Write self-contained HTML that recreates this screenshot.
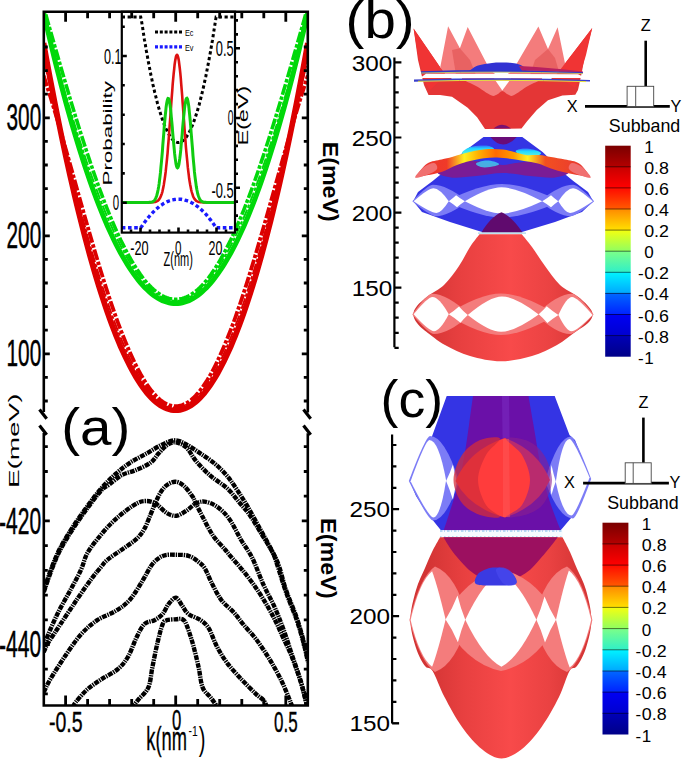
<!DOCTYPE html>
<html><head><meta charset="utf-8"><title>figure</title>
<style>html,body{margin:0;padding:0;background:#fff;}svg{display:block;}</style>
</head><body>
<svg width="685" height="765" viewBox="0 0 685 765">
<rect width="685" height="765" fill="#fff"/>
<defs><linearGradient id="rgb" gradientUnits="userSpaceOnUse" x1="420" y1="0" x2="585" y2="0"><stop offset="0" stop-color="#d23434"/><stop offset="0.25" stop-color="#e84040"/><stop offset="0.55" stop-color="#f84a4a"/><stop offset="0.8" stop-color="#ea4242"/><stop offset="1" stop-color="#d63636"/></linearGradient></defs>
<defs><linearGradient id="rgc" gradientUnits="userSpaceOnUse" x1="425" y1="0" x2="580" y2="0"><stop offset="0" stop-color="#d23434"/><stop offset="0.25" stop-color="#e84040"/><stop offset="0.55" stop-color="#f84a4a"/><stop offset="0.8" stop-color="#ea4242"/><stop offset="1" stop-color="#d63636"/></linearGradient></defs>
<defs><linearGradient id="rgt" gradientUnits="userSpaceOnUse" x1="425" y1="0" x2="580" y2="0"><stop offset="0" stop-color="#d23434"/><stop offset="0.25" stop-color="#e84040"/><stop offset="0.55" stop-color="#f84a4a"/><stop offset="0.8" stop-color="#ea4242"/><stop offset="1" stop-color="#d63636"/></linearGradient></defs>
<path d="M413.6,28.6 L441,68.6 L452,79 L551,79 L560,70 L592.2,28 L585,55 L581.7,73 L578,90 L575.3,94.7 L562.4,95.5 L548,100.3 L536.8,110 L527.1,121.2 L521.5,128.6 L485,128.9 L477.1,117.2 L467.7,107.8 L452,96.8 L440,95 L428.5,94.9 L424,85 L418,60Z" fill="#e43636" />
<path d="M440.3,67 L448.1,26.3 L459.9,48.2 L467.7,27 L490,70 L501.4,79 L513,70 L538.4,26.4 L548,49 L557.6,27.2 L566,68.2 L560,78 L445,78Z" fill="#f47c7c" />
<path d="M452,50 L459.9,48.2 L470,60 L476,75 L456,75Z" fill="#e86262" />
<path d="M548,49 L555,58 L560,75 L530,75 L535,60Z" fill="#e86262" />
<path d="M413.6,28.6 L441,68.6 L446,75 L430,90 L424,80 L418,55Z" fill="#f03434" />
<path d="M592.2,28 L560,70 L556,75 L575,88 L580,75 L586,55Z" fill="#f03434" />
<path d="M462,79.5 C464.3,80.6 471.2,83.4 476,86 C480.8,88.6 487.5,93.9 491,95.3 C494.5,96.7 495.1,95.2 497,94.5 C498.9,93.8 500.5,91 502.3,91 C504.1,91 506.1,93.8 508,94.5 C509.9,95.2 510.3,96.7 513.6,95.3 C516.9,93.9 523.3,88.6 528,86 C532.7,83.4 539.7,80.6 542,79.5 L542,78 L462,78Z" fill="#f47c7c" />
<path d="M494,78.5 L502.3,90.5 L511,78.5Z" fill="#fff" />
<path d="M493.4,128.6 Q502,121 511,128.6Z" fill="#7a1070" />
<path d="M469,71 C470.5,70.1 474.2,66.8 478,65.5 C481.8,64.2 487.8,63.5 492,63 C496.2,62.5 499,62.5 503,62.6 C507,62.7 512.5,62.8 516,63.5 C519.5,64.2 522.2,65.7 524,67 C525.8,68.3 526.5,70.8 527,71.5Z" fill="#3232d2" />
<path d="M519,66 Q545,67 583,71.5 L583,73 Q545,70 522,71Z" fill="#b82060" />
<path d="M421,71.3 Q500,68.5 583,72.2 L583,73.8 Q500,71 421,73.5Z" fill="#2e36c8" />
<path d="M421,73 Q500,71 583,73.6" fill="#fff" stroke="#d8e060" stroke-width="0.8" fill-opacity="0"/>
<path d="M426,73.8 L578,74.2 L586,78 L420,78Z" fill="#fff" />
<path d="M414,79.6 Q500,76.5 590,80 L590,81.6 Q500,79 414,81.8Z" fill="#3a40cc" />
<path d="M418,81.3 Q500,79.2 586,81.6" fill="#fff" stroke="#e8e040" stroke-width="1" fill-opacity="0"/>
<path d="M483.5,136.9 L522.3,136.9 L542.6,151.9 L556,165 L566,175 L573.3,181 L580,186 L588,192 L593.3,201.3 L582,212 L555,222 L522,232 L482,232 L450,222 L422,212 L413.2,201.3 L418,192 L426,186 L432.7,181 L440,175 L450,165 L463.4,151.9Z" fill="#3434e4" />
<path d="M437,172 C437.2,169.9 446.5,166.8 452,165 C457.5,163.2 463.7,161.3 470,161 C476.3,160.7 484.5,162.3 490,163 C495.5,163.7 498.7,165 503,165 C507.3,165 510.5,163.7 516,163 C521.5,162.3 529.7,160.7 536,161 C542.3,161.3 548.5,163.2 554,165 C559.5,166.8 568.8,169.9 569,172 C569.2,174.1 561.5,176.8 555,177.5 C548.5,178.2 538.7,176.8 530,176 C521.3,175.2 512,173 503,173 C494,173 484.7,175.2 476,176 C467.3,176.8 457.5,178.2 451,177.5 C444.5,176.8 436.8,174.1 437,172Z" fill="#7a1c96" />
<defs><linearGradient id="bandg" gradientUnits="userSpaceOnUse" x1="415" y1="0" x2="591" y2="0"><stop offset="0" stop-color="#e83434"/><stop offset="0.18" stop-color="#f03a28"/><stop offset="0.28" stop-color="#fff020"/><stop offset="0.36" stop-color="#ffb000"/><stop offset="0.46" stop-color="#ff6a00"/><stop offset="0.56" stop-color="#ff9c00"/><stop offset="0.64" stop-color="#fff020"/><stop offset="0.74" stop-color="#f25020"/><stop offset="1" stop-color="#e83434"/></linearGradient><linearGradient id="bandc" x1="0" y1="0" x2="0" y2="1"><stop offset="0" stop-color="#3070ff"/><stop offset="0.35" stop-color="#20d8ff"/><stop offset="1" stop-color="#60f0e0"/></linearGradient></defs>
<path d="M462,153.5 C461,152.4 465.3,149.3 468,148 C470.7,146.7 474.5,146.1 478,145.8 C481.5,145.5 486.3,145.4 489,146 C491.7,146.6 494.5,148.4 494,149.5 C493.5,150.6 489.3,151.7 486,152.5 C482.7,153.3 478,154.3 474,154.5 C470,154.7 463,154.6 462,153.5Z" fill="url(#bandc)" />
<path d="M516,150.5 C517,149.7 521.2,148.7 524,148.5 C526.8,148.3 530.2,148.8 533,149.5 C535.8,150.2 540.5,151.9 541,153 C541.5,154.1 538.5,155.6 536,156 C533.5,156.4 529,155.9 526,155.5 C523,155.1 519.7,154.3 518,153.5 C516.3,152.7 515,151.3 516,150.5Z" fill="url(#bandc)" />
<path d="M476,163.5 C476.7,162.4 482,160.8 485,160.5 C488,160.2 491.7,160.8 494,161.5 C496.3,162.2 499.7,163.6 499,164.5 C498.3,165.4 493,166.6 490,167 C487,167.4 483.3,167.6 481,167 C478.7,166.4 475.3,164.6 476,163.5Z" fill="#40c8f0" fill-opacity="0.85"/>
<path d="M415.3,177.4 C417.2,175.1 422.5,166.8 426.9,163.8 C431.3,160.8 437.3,160.7 441.5,159.6 C445.7,158.5 448.4,158 452,157 C455.6,156 459.2,154.8 463,153.8 C466.8,152.8 470.7,151.6 475,150.8 C479.3,150 484.3,149.2 489,149 C493.7,148.8 498.7,149.1 503,149.6 C507.3,150.1 511.2,151.3 515,152.2 C518.8,153.1 522,154.5 526,155 C530,155.5 534.8,154.7 539,155 C543.2,155.3 546.7,156.2 551,157 C555.3,157.8 560.2,158.5 565,159.6 C569.8,160.7 575.2,160.8 579.5,163.8 C583.8,166.8 588.8,175.1 590.6,177.4 L590.6,177.4 C588.7,177.1 583.3,176.1 579,175.3 C574.7,174.5 569.7,173.6 565,172.5 C560.3,171.4 555.5,170 551,168.5 C546.5,167 542.5,164.8 538,163.5 C533.5,162.2 528.7,161.8 524,161 C519.3,160.2 514.5,159.4 510,158.8 C505.5,158.2 501.3,157.6 497,157.5 C492.7,157.4 488.5,157.6 484,158.2 C479.5,158.8 474.5,159.9 470,161 C465.5,162.1 461.8,163.2 457,165 C452.2,166.8 446.5,170.3 441.5,172 C436.5,173.7 431.4,174.4 427,175.3 C422.6,176.2 417.2,177.1 415.3,177.4Z" fill="url(#bandg)" />
<path d="M415.3,177.4 C414.6,176.2 420.9,169.4 424,167 C427.1,164.6 431.8,162.7 434,163 C436.2,163.3 438,167.1 437,169 C436,170.9 431.6,173.1 428,174.5 C424.4,175.9 416,178.7 415.3,177.4Z" fill="#f07070" />
<path d="M590.6,177.4 C591.3,176.2 585.1,169.4 582,167 C578.9,164.6 574.2,162.7 572,163 C569.8,163.3 568,167.1 569,169 C570,170.9 574.4,173.1 578,174.5 C581.6,175.9 589.9,178.7 590.6,177.4Z" fill="#f07070" />
<path d="M490.4,136.9 Q503,152 516.8,136.9Z" fill="#6a0c78" />
<path d="M412.3,201.3 Q427.8,184.8 433,184.8 Q446.8,184.8 467.5,201.3 Q448.6,216.2 436,216.2 Q430.1,216.2 412.3,201.3Z" fill="#7c7cf6" />
<path d="M446,201.3 Q480.7,184 502,184 Q524.2,184 560.5,201.3 Q524.2,217.5 502,217.5 Q480.7,217.5 446,201.3Z" fill="#7c7cf6" />
<path d="M539.5,201.3 Q559.6,184.8 573,184.8 Q578.3,184.8 594.2,201.3 Q576.4,216.2 570.5,216.2 Q558.1,216.2 539.5,201.3Z" fill="#7c7cf6" />
<path d="M413.6,201.3 Q428.5,188.3 433.5,188.3 Q439.6,188.3 448.8,201.3 Q441.4,213 436.5,213 Q430.8,213 413.6,201.3Z" fill="#fff" />
<path d="M448.8,201.3 Q452.7,198.5 456.1,195.3 Q460.1,198.5 464.9,201.3 Q460.6,204.1 457,207.3 Q453.2,204.1 448.8,201.3Z" fill="#fff" />
<path d="M464.9,201.3 Q488.3,187.3 501.4,187.3 Q516.1,187.3 542.2,201.3 Q516.1,213.5 501.4,213.5 Q488.3,213.5 464.9,201.3Z" fill="#fff" />
<path d="M542.2,201.3 Q547,198.5 551,195.3 Q554.4,198.5 558.3,201.3 Q554.4,204.1 551,207.3 Q547,204.1 542.2,201.3Z" fill="#fff" />
<path d="M558.3,201.3 Q567.1,188.3 573,188.3 Q578,188.3 592.8,201.3 Q575.7,213 570,213 Q565.3,213 558.3,201.3Z" fill="#fff" />
<path d="M481.5,232.5 C486,224 494,215 501.5,212.2 C509,215 517,224 522.5,232.5Z" fill="#600a6e" />
<path d="M478,233.2 H526" stroke="#a8d8e8" stroke-width="1.2"/>
<path d="M479.5,234.2 C477.9,236.3 473.4,241.7 470,247 C466.6,252.3 463.3,259.7 459,266 C454.7,272.3 449.2,280 444,285 C438.8,290 432.5,292.5 428,296 C423.5,299.5 419.4,302.9 417,306 C414.6,309.1 413.3,311.7 413.3,314.5 C413.3,317.3 414.9,320.2 417,323 C419.1,325.8 421.3,327.8 426,331.5 C430.7,335.2 437.7,340.9 445,345 C452.3,349.1 460.7,353.3 470,356 C479.3,358.7 490.6,361.3 500.9,361.3 C511.2,361.3 522.6,358.7 532,356 C541.4,353.3 549.7,349.1 557,345 C564.3,340.9 570.8,335.2 576,331.5 C581.2,327.8 585.2,325.8 588,323 C590.8,320.2 592.7,317.3 592.7,314.5 C592.7,311.7 590.6,309.1 588,306 C585.4,302.9 581.7,299.5 577,296 C572.3,292.5 565.3,290 560,285 C554.7,280 549.7,272.3 545,266 C540.3,259.7 535.9,252.3 532,247 C528.1,241.7 523.5,236.3 521.8,234.2Z" fill="url(#rgb)" />
<path d="M412.3,314.5 Q427.1,293.8 432,293.8 Q447.2,293.8 470,315 Q448.4,334 434,334 Q428.6,334 412.3,314.5Z" fill="#f47c7c" />
<path d="M446.5,314.5 Q480.3,293.5 501,293.5 Q522.3,293.5 557,314.5 Q522.3,335 501,335 Q480.3,335 446.5,314.5Z" fill="#f47c7c" />
<path d="M536,314.5 Q557.6,293.8 572,293.8 Q577.4,293.8 593.6,314.5 Q575.9,334 570,334 Q556.4,334 536,314.5Z" fill="#f47c7c" />
<path d="M413.6,314.3 Q427.8,297 432.5,297 Q439,297 448.8,314.3 Q439.9,331.2 434,331.2 Q428.9,331.2 413.6,314.3Z" fill="#fff" />
<path d="M448.8,314.3 Q454.3,310.7 459,306.5 Q463,311.1 467.8,315 Q463.9,318.6 460.5,322.8 Q455.1,318.2 448.8,314.3Z" fill="#fff" />
<path d="M467.8,315 Q489.7,296.5 502,296.5 Q515.2,296.5 538.7,314.5 Q514.6,331.8 501,331.8 Q489,331.8 467.8,315Z" fill="#fff" />
<path d="M538.7,314.3 Q543,310.6 546.7,306.3 Q552.1,311 558.4,315 Q552.5,318.7 547.4,323 Q543.4,318.3 538.7,314.3Z" fill="#fff" />
<path d="M558.4,315 Q566.6,297 572,297 Q577.1,297 592.6,315 Q576.8,331.2 571.5,331.2 Q566.3,331.2 558.4,315Z" fill="#fff" />
<path d="M446.7,396.1 L554.7,396.1 L569.5,435.1 L575,440 L582,458 L590.1,479 L582,498 L575,512 L571.5,517.5 L560.7,530.2 L440.9,530.2 L431,518 L425,510 L416,496 L409.8,481 L415,468 L423,452 L431.4,438Z" fill="#3434e4" />
<path d="M473,396.1 C472.3,400.9 470.4,415.2 469,425 C467.6,434.8 466.2,445.5 464.5,455 C462.8,464.5 461.2,473.2 459,482 C456.8,490.8 453.5,500 451,508 C448.5,516 445,526.5 443.8,530.2 L560.6,530.2 C559.2,526.5 554.8,516 552,508 C549.2,500 546.2,490.8 544,482 C541.8,473.2 540.2,464.5 538.5,455 C536.8,445.5 535.2,434.8 533.5,425 C531.8,415.2 529.3,400.9 528.5,396.1Z" fill="#6a10a8" />
<path d="M502,396.1 L509,396.1 L510,470 L503,470Z" fill="#7e34c8" fill-opacity="0.45"/>
<path d="M408.8,481 Q425.8,436 430,436 Q444.5,436 459,481 Q446,520.5 433,520.5 Q428.2,520.5 408.8,481Z" fill="#7c7cf6" />
<path d="M545,481 Q558,436.5 571,436.5 Q575,436.5 591.2,479 Q576.6,518.5 573,518.5 Q559,518.5 545,481Z" fill="#7c7cf6" />
<path d="M410.6,481.2 Q425.6,440 429.4,440 Q438.6,440 446.1,480.2 Q440.3,517.5 433.3,517.5 Q428.8,517.5 410.6,481.2Z" fill="#fff" />
<path d="M446.1,481 Q449.8,473.6 452.9,464.5 Q454.7,473.7 456.9,481.2 Q454.7,489.6 452.9,499.8 Q449.8,489.5 446.1,481Z" fill="#fff" />
<path d="M549,480.5 Q550.4,473.5 551.5,465 Q553.4,474.1 555.8,481.5 Q553.4,487.6 551.5,495 Q550.4,487 549,480.5Z" fill="#fff" />
<path d="M555.8,482 Q562,439 569.5,439 Q573.5,439 589.6,477.5 Q575.1,515.5 571.5,515.5 Q562.9,515.5 555.8,482Z" fill="#fff" />
<path d="M455.5,481 Q469.1,449.8 504.8,438 Q537.6,449.6 550,480 Q537.6,507.2 504.8,517.5 Q469.1,507.5 455.5,481Z" fill="#ff3c3c" />
<path d="M453.5,480 C453.5,472 457.6,461.7 462,455 C466.4,448.3 473.7,442.8 480,440 C486.3,437.2 499,436 500,438.5 C501,441 489.7,448.1 486,455 C482.3,461.9 478,471.7 478,480 C478,488.3 482.3,498.8 486,505 C489.7,511.2 501,515.3 500,517 C499,518.7 486.3,517.3 480,515 C473.7,512.7 466.4,508.8 462,503 C457.6,497.2 453.5,488 453.5,480Z" fill="#d42c3a" fill-opacity="0.75"/>
<path d="M552,480 C552,472 548,461.5 544,455 C540,448.5 534.3,443.8 528,441 C521.7,438.2 507,436.2 506,438.5 C505,440.8 518,448.1 522,455 C526,461.9 530,471.7 530,480 C530,488.3 526,498.8 522,505 C518,511.2 505,515.5 506,517 C507,518.5 521.7,516.3 528,514 C534.3,511.7 540,508.7 544,503 C548,497.3 552,488 552,480Z" fill="#8a2090" fill-opacity="0.6"/>
<path d="M503,439 L509,439 L510,517 L503,517Z" fill="#ff6060" fill-opacity="0.4"/>
<path d="M440,530.2 H562.5 V537.3 H440Z" fill="#f6fbff" />
<path d="M440,531 H562" stroke="#78b8e8" stroke-width="1.1" stroke-dasharray="2.5 1.5 1 2"/>
<path d="M440,536.6 H562" stroke="#b0d8f0" stroke-width="1" stroke-dasharray="1.5 2.5"/>
<path d="M440,537.3 C438.7,539.8 434.6,546.8 432,552 C429.4,557.2 427.4,562.4 424.7,568.7 C422,575 418.4,581.5 416,590 C413.6,598.5 410.4,610.3 410.4,620 C410.4,629.7 413.6,640.3 416,648 C418.4,655.7 422.2,662.2 425,666 C427.8,669.8 429.4,665.8 432.6,671 C435.9,676.2 439.6,687.7 444.5,697 C449.4,706.3 455.8,718.3 462,727 C468.2,735.7 475.4,744 482,749.3 C488.6,754.5 494.9,758.5 501.5,758.5 C508.1,758.5 515,754.5 521.7,749.3 C528.4,744 535.4,735.7 541.6,727 C547.8,718.3 554.4,706.3 559,697 C563.6,687.7 566.5,676.2 569.5,671 C572.5,665.8 574.2,669.8 577,666 C579.8,662.2 583.6,655.7 586,648 C588.4,640.3 591.4,629.7 591.4,620 C591.4,610.3 588.4,598.5 586,590 C583.6,581.5 579.7,575 577,568.7 C574.3,562.4 572.4,557.2 570,552 C567.6,546.8 563.8,539.8 562.5,537.3Z" fill="url(#rgc)" />
<path d="M443.4,537.3 C445.3,540.2 449.9,548.7 455,554.7 C460.1,560.7 466.7,568.7 473.7,573.4 C480.7,578.1 488.4,582.7 497,582.7 C505.6,582.7 517.3,578.1 525.1,573.4 C532.9,568.7 538.3,560.7 543.8,554.7 C549.2,548.7 555.5,540.2 557.8,537.3Z" fill="#9c1060" />
<path d="M409.4,620 Q420.2,576.1 435,566.5 Q456.4,574.5 468,620 Q456.4,664.2 435,672 Q420.2,662.6 409.4,620Z" fill="#f47c7c" />
<path d="M443,620 Q465,577.1 501,569.5 Q537,577.1 559,620 Q537,663.4 501,671 Q465,663.4 443,620Z" fill="#f47c7c" />
<path d="M533.5,620 Q545.2,574.5 567,566.5 Q581.7,576.1 592.4,620 Q581.7,662.6 567,672 Q545.2,664.2 533.5,620Z" fill="#f47c7c" />
<path d="M410.6,620 Q419.6,581 432.1,571.2 Q437.5,585.7 445.6,619.5 Q437.5,652.6 432.1,666.8 Q419.6,657.4 410.6,620Z" fill="#fff" />
<path d="M445.6,619.5 Q452.3,608.9 457.5,595.5 Q460.9,609.1 465.3,619.8 Q461.2,629.7 457.9,642.2 Q452.5,629.5 445.6,619.5Z" fill="#fff" />
<path d="M465.3,619.8 Q483.1,581.6 501,572 Q518.7,581.5 536.4,619.7 Q518.9,657.4 501.4,666.8 Q483.4,657.4 465.3,619.8Z" fill="#fff" />
<path d="M536.4,619.7 Q540.9,609.5 544.5,596.5 Q549.6,609.5 556,619.7 Q549.8,629.7 545,642.5 Q541.2,629.7 536.4,619.7Z" fill="#fff" />
<path d="M556,619.7 Q563.7,585.2 568.9,570.4 Q581.8,580.3 591.2,619.7 Q582.2,658 569.7,667.6 Q564.2,653.2 556,619.7Z" fill="#fff" />
<path d="M476,583.9 C473,582 476,576.6 478,574 C480,571.4 485,569.6 488,568.5 C491,567.4 493.3,567.6 496,567.6 C498.7,567.6 501.2,567.4 504,568.5 C506.8,569.6 511,571.4 513,574 C515,576.6 518.6,582 515.8,583.9 C513,585.8 502.6,585.5 496,585.5 C489.4,585.5 479,585.8 476,583.9Z" fill="#3a3ae2" />
<path d="M496,570 C496.2,567.3 502.2,567.3 505,568 C507.8,568.7 511.2,571.4 513,574 C514.8,576.6 517.3,582.2 515.8,583.9 C514.3,585.6 507.3,586.3 504,584 C500.7,581.7 495.8,572.7 496,570Z" fill="#4848ee" fill-opacity="0.7"/>
<defs><clipPath id="clipA"><rect x="43.8" y="11.7" width="264" height="693.8"/></clipPath></defs>
<g clip-path="url(#clipA)">
<path d="M43.6,75.7 L45.8,82.4 L48,89.3 L50.2,96.2 L52.4,103.4 L54.6,110.6 L56.8,118 L59,125.5 L61.2,133.1 L63.4,140.7 L65.6,148.4 L67.8,156.2 L70,164 L72.2,171.8 L74.4,179.7 L76.6,187.5 L78.8,195.4 L81,203.2 L83.2,211 L85.4,218.7 L87.6,226.4 L89.8,234.1 L92,241.6 L94.2,249.1 L96.4,256.5 L98.6,263.8 L100.8,271 L103,278.1 L105.2,285.1 L107.4,291.9 L109.6,298.6 L111.8,305.2 L114,311.5 L116.2,317.8 L118.4,323.8 L120.6,329.7 L122.9,335.4 L125.1,340.9 L127.3,346.3 L129.5,351.4 L131.7,356.3 L133.9,361 L136.1,365.5 L138.3,369.8 L140.5,373.9 L142.7,377.7 L144.9,381.4 L147.1,384.7 L149.3,387.9 L151.5,390.8 L153.7,393.4 L155.9,395.8 L158.1,398 L160.3,399.9 L162.5,401.6 L164.7,403 L166.9,404.1 L169.1,405 L171.3,405.7 L173.5,406.1 L175.7,406.2 L177.9,406.1 L180.1,405.7 L182.3,405 L184.5,404.1 L186.7,403 L188.9,401.6 L191.1,399.9 L193.3,398 L195.5,395.8 L197.7,393.4 L199.9,390.8 L202.1,387.9 L204.3,384.7 L206.5,381.4 L208.7,377.7 L210.9,373.9 L213.1,369.8 L215.3,365.5 L217.5,361 L219.7,356.3 L221.9,351.4 L224.1,346.3 L226.3,340.9 L228.5,335.4 L230.8,329.7 L233,323.8 L235.2,317.8 L237.4,311.5 L239.6,305.2 L241.8,298.6 L244,291.9 L246.2,285.1 L248.4,278.1 L250.6,271 L252.8,263.8 L255,256.5 L257.2,249.1 L259.4,241.6 L261.6,234.1 L263.8,226.4 L266,218.7 L268.2,211 L270.4,203.2 L272.6,195.4 L274.8,187.5 L277,179.7 L279.2,171.8 L281.4,164 L283.6,156.2 L285.8,148.4 L288,140.7 L290.2,133.1 L292.4,125.5 L294.6,118 L296.8,110.6 L299,103.4 L301.2,96.2 L303.4,89.3 L305.6,82.4 L307.8,75.7" fill="none" stroke="#dc0000" stroke-width="3.8" stroke-dasharray="11 1.8 3.5 1.8"/>
<path d="M43.6,58.4 L45.8,67.9 L48,77.3 L50.2,86.7 L52.4,96.1 L54.6,105.5 L56.8,114.8 L59,124 L61.2,133.2 L63.4,142.3 L65.6,151.4 L67.8,160.3 L70,169.2 L72.2,178 L74.4,186.6 L76.6,195.2 L78.8,203.7 L81,212.1 L83.2,220.3 L85.4,228.4 L87.6,236.4 L89.8,244.3 L92,252 L94.2,259.5 L96.4,267 L98.6,274.2 L100.8,281.3 L103,288.3 L105.2,295.1 L107.4,301.7 L109.6,308.2 L111.8,314.4 L114,320.5 L116.2,326.4 L118.4,332.1 L120.6,337.7 L122.9,343 L125.1,348.2 L127.3,353.1 L129.5,357.9 L131.7,362.4 L133.9,366.7 L136.1,370.9 L138.3,374.8 L140.5,378.5 L142.7,382 L144.9,385.3 L147.1,388.3 L149.3,391.1 L151.5,393.8 L153.7,396.2 L155.9,398.3 L158.1,400.3 L160.3,402 L162.5,403.5 L164.7,404.7 L166.9,405.8 L169.1,406.6 L171.3,407.1 L173.5,407.5 L175.7,407.6 L177.9,407.5 L180.1,407.1 L182.3,406.6 L184.5,405.8 L186.7,404.7 L188.9,403.5 L191.1,402 L193.3,400.3 L195.5,398.3 L197.7,396.2 L199.9,393.8 L202.1,391.1 L204.3,388.3 L206.5,385.3 L208.7,382 L210.9,378.5 L213.1,374.8 L215.3,370.9 L217.5,366.7 L219.7,362.4 L221.9,357.9 L224.1,353.1 L226.3,348.2 L228.5,343 L230.8,337.7 L233,332.1 L235.2,326.4 L237.4,320.5 L239.6,314.4 L241.8,308.2 L244,301.7 L246.2,295.1 L248.4,288.3 L250.6,281.3 L252.8,274.2 L255,267 L257.2,259.5 L259.4,252 L261.6,244.3 L263.8,236.4 L266,228.4 L268.2,220.3 L270.4,212.1 L272.6,203.7 L274.8,195.2 L277,186.6 L279.2,178 L281.4,169.2 L283.6,160.3 L285.8,151.3 L288,142.3 L290.2,133.2 L292.4,124 L294.6,114.8 L296.8,105.5 L299,96.1 L301.2,86.7 L303.4,77.3 L305.6,67.9 L307.8,58.4" fill="none" stroke="#dc0000" stroke-width="2" stroke-dasharray="11 1.8 3.5 1.8"/>
<path d="M43.6,43.1 L45.8,55.2 L48,67.2 L50.2,78.9 L52.4,90.4 L54.6,101.8 L56.8,112.9 L59,123.8 L61.2,134.5 L63.4,145 L65.6,155.3 L67.8,165.4 L70,175.3 L72.2,185 L74.4,194.5 L76.6,203.8 L78.8,212.8 L81,221.7 L83.2,230.4 L85.4,238.8 L87.6,247.1 L89.8,255.2 L92,263 L94.2,270.7 L96.4,278.1 L98.6,285.4 L100.8,292.4 L103,299.2 L105.2,305.9 L107.4,312.3 L109.6,318.5 L111.8,324.5 L114,330.3 L116.2,335.9 L118.4,341.3 L120.6,346.6 L122.9,351.5 L125.1,356.3 L127.3,360.9 L129.5,365.3 L131.7,369.5 L133.9,373.5 L136.1,377.3 L138.3,380.8 L140.5,384.2 L142.7,387.4 L144.9,390.3 L147.1,393.1 L149.3,395.6 L151.5,398 L153.7,400.1 L155.9,402 L158.1,403.8 L160.3,405.3 L162.5,406.6 L164.7,407.8 L166.9,408.7 L169.1,409.4 L171.3,409.9 L173.5,410.2 L175.7,410.3 L177.9,410.2 L180.1,409.9 L182.3,409.4 L184.5,408.7 L186.7,407.8 L188.9,406.6 L191.1,405.3 L193.3,403.8 L195.5,402 L197.7,400.1 L199.9,398 L202.1,395.6 L204.3,393.1 L206.5,390.3 L208.7,387.4 L210.9,384.2 L213.1,380.8 L215.3,377.3 L217.5,373.5 L219.7,369.5 L221.9,365.3 L224.1,360.9 L226.3,356.3 L228.5,351.5 L230.8,346.6 L233,341.3 L235.2,335.9 L237.4,330.3 L239.6,324.5 L241.8,318.5 L244,312.3 L246.2,305.9 L248.4,299.2 L250.6,292.4 L252.8,285.4 L255,278.1 L257.2,270.7 L259.4,263 L261.6,255.2 L263.8,247.1 L266,238.8 L268.2,230.4 L270.4,221.7 L272.6,212.8 L274.8,203.7 L277,194.5 L279.2,185 L281.4,175.3 L283.6,165.4 L285.8,155.3 L288,145 L290.2,134.5 L292.4,123.8 L294.6,112.9 L296.8,101.8 L299,90.4 L301.2,78.9 L303.4,67.2 L305.6,55.2 L307.8,43.1" fill="none" stroke="#dc0000" stroke-width="5.6"/>
<path d="M45.8,14.6 L48,22.4 L50.2,30.1 L52.4,37.8 L54.6,45.5 L56.8,53.1 L59,60.7 L61.2,68.3 L63.4,75.9 L65.6,83.4 L67.8,90.8 L70,98.2 L72.2,105.5 L74.4,112.7 L76.6,119.9 L78.8,127 L81,133.9 L83.2,140.8 L85.4,147.6 L87.6,154.3 L89.8,160.9 L92,167.4 L94.2,173.8 L96.4,180 L98.6,186.2 L100.8,192.2 L103,198 L105.2,203.8 L107.4,209.4 L109.6,214.8 L111.8,220.1 L114,225.3 L116.2,230.3 L118.4,235.1 L120.6,239.8 L122.9,244.4 L125.1,248.7 L127.3,252.9 L129.5,257 L131.7,260.8 L133.9,264.5 L136.1,268 L138.3,271.3 L140.5,274.5 L142.7,277.5 L144.9,280.3 L147.1,282.9 L149.3,285.3 L151.5,287.5 L153.7,289.5 L155.9,291.4 L158.1,293 L160.3,294.5 L162.5,295.8 L164.7,296.9 L166.9,297.7 L169.1,298.4 L171.3,298.9 L173.5,299.2 L175.7,299.3 L177.9,299.2 L180.1,298.9 L182.3,298.4 L184.5,297.7 L186.7,296.9 L188.9,295.8 L191.1,294.5 L193.3,293 L195.5,291.4 L197.7,289.5 L199.9,287.5 L202.1,285.3 L204.3,282.9 L206.5,280.3 L208.7,277.5 L210.9,274.5 L213.1,271.3 L215.3,268 L217.5,264.5 L219.7,260.8 L221.9,257 L224.1,252.9 L226.3,248.7 L228.5,244.4 L230.8,239.8 L233,235.1 L235.2,230.3 L237.4,225.3 L239.6,220.1 L241.8,214.8 L244,209.4 L246.2,203.8 L248.4,198 L250.6,192.2 L252.8,186.2 L255,180 L257.2,173.8 L259.4,167.4 L261.6,160.9 L263.8,154.3 L266,147.6 L268.2,140.8 L270.4,133.9 L272.6,127 L274.8,119.9 L277,112.7 L279.2,105.5 L281.4,98.2 L283.6,90.8 L285.8,83.4 L288,75.9 L290.2,68.3 L292.4,60.7 L294.6,53.1 L296.8,45.5 L299,37.8 L301.2,30.1 L303.4,22.4 L305.6,14.6" fill="none" stroke="#00d80a" stroke-width="3.6" stroke-dasharray="11 1.8 3.5 1.8"/>
<path d="M43.6,15.7 L45.8,23.9 L48,32 L50.2,40.1 L52.4,48.1 L54.6,56 L56.8,63.9 L59,71.7 L61.2,79.4 L63.4,87 L65.6,94.6 L67.8,102 L70,109.4 L72.2,116.6 L74.4,123.8 L76.6,130.9 L78.8,137.8 L81,144.6 L83.2,151.4 L85.4,158 L87.6,164.5 L89.8,170.9 L92,177.1 L94.2,183.2 L96.4,189.2 L98.6,195.1 L100.8,200.8 L103,206.3 L105.2,211.8 L107.4,217.1 L109.6,222.2 L111.8,227.2 L114,232.1 L116.2,236.8 L118.4,241.3 L120.6,245.7 L122.9,250 L125.1,254 L127.3,257.9 L129.5,261.7 L131.7,265.3 L133.9,268.7 L136.1,272 L138.3,275 L140.5,278 L142.7,280.7 L144.9,283.3 L147.1,285.7 L149.3,287.9 L151.5,290 L153.7,291.8 L155.9,293.5 L158.1,295.1 L160.3,296.4 L162.5,297.6 L164.7,298.6 L166.9,299.4 L169.1,300 L171.3,300.4 L173.5,300.7 L175.7,300.8 L177.9,300.7 L180.1,300.4 L182.3,300 L184.5,299.4 L186.7,298.6 L188.9,297.6 L191.1,296.4 L193.3,295.1 L195.5,293.5 L197.7,291.8 L199.9,290 L202.1,287.9 L204.3,285.7 L206.5,283.3 L208.7,280.7 L210.9,278 L213.1,275 L215.3,272 L217.5,268.7 L219.7,265.3 L221.9,261.7 L224.1,257.9 L226.3,254 L228.5,250 L230.8,245.7 L233,241.3 L235.2,236.8 L237.4,232.1 L239.6,227.2 L241.8,222.2 L244,217.1 L246.2,211.8 L248.4,206.3 L250.6,200.8 L252.8,195.1 L255,189.2 L257.2,183.2 L259.4,177.1 L261.6,170.9 L263.8,164.5 L266,158 L268.2,151.4 L270.4,144.6 L272.6,137.8 L274.8,130.9 L277,123.8 L279.2,116.6 L281.4,109.4 L283.6,102 L285.8,94.5 L288,87 L290.2,79.4 L292.4,71.7 L294.6,63.9 L296.8,56 L299,48.1 L301.2,40.1 L303.4,32 L305.6,23.9 L307.8,15.7" fill="none" stroke="#00d80a" stroke-width="2" stroke-dasharray="11 1.8 3.5 1.8"/>
<path d="M43.6,12.6 L45.8,22.2 L48,31.7 L50.2,41 L52.4,50.1 L54.6,59.1 L56.8,67.9 L59,76.5 L61.2,85 L63.4,93.3 L65.6,101.5 L67.8,109.5 L70,117.3 L72.2,125 L74.4,132.5 L76.6,139.9 L78.8,147.1 L81,154.1 L83.2,161 L85.4,167.7 L87.6,174.2 L89.8,180.6 L92,186.8 L94.2,192.9 L96.4,198.8 L98.6,204.5 L100.8,210.1 L103,215.5 L105.2,220.8 L107.4,225.9 L109.6,230.8 L111.8,235.5 L114,240.2 L116.2,244.6 L118.4,248.9 L120.6,253 L122.9,257 L125.1,260.8 L127.3,264.4 L129.5,267.9 L131.7,271.2 L133.9,274.3 L136.1,277.3 L138.3,280.1 L140.5,282.8 L142.7,285.3 L144.9,287.7 L147.1,289.8 L149.3,291.9 L151.5,293.7 L153.7,295.4 L155.9,297 L158.1,298.3 L160.3,299.5 L162.5,300.6 L164.7,301.5 L166.9,302.2 L169.1,302.8 L171.3,303.2 L173.5,303.4 L175.7,303.5 L177.9,303.4 L180.1,303.2 L182.3,302.8 L184.5,302.2 L186.7,301.5 L188.9,300.6 L191.1,299.5 L193.3,298.3 L195.5,297 L197.7,295.4 L199.9,293.7 L202.1,291.9 L204.3,289.8 L206.5,287.7 L208.7,285.3 L210.9,282.8 L213.1,280.1 L215.3,277.3 L217.5,274.3 L219.7,271.2 L221.9,267.9 L224.1,264.4 L226.3,260.8 L228.5,257 L230.8,253 L233,248.9 L235.2,244.6 L237.4,240.2 L239.6,235.5 L241.8,230.8 L244,225.9 L246.2,220.8 L248.4,215.5 L250.6,210.1 L252.8,204.5 L255,198.8 L257.2,192.9 L259.4,186.8 L261.6,180.6 L263.8,174.2 L266,167.7 L268.2,161 L270.4,154.1 L272.6,147.1 L274.8,139.9 L277,132.5 L279.2,125 L281.4,117.3 L283.6,109.5 L285.8,101.5 L288,93.3 L290.2,85 L292.4,76.5 L294.6,67.9 L296.8,59.1 L299,50.1 L301.2,41 L303.4,31.7 L305.6,22.2 L307.8,12.6" fill="none" stroke="#00d80a" stroke-width="5"/>
<path d="M43.8,590 C45.2,586 49.5,573.1 52.3,566 C55.1,558.9 57,554.1 60.4,547.6 C63.8,541.1 68.3,534 72.7,527.2 C77.1,520.4 82.2,513.2 87,506.7 C91.8,500.2 96.5,493.8 101.3,488.4 C106.1,482.9 110.8,478.3 115.6,474 C120.4,469.7 124.8,466.2 129.9,462.8 C135,459.4 140.9,456.7 146.3,453.6 C151.8,450.5 157.7,446.6 162.6,444.4 C167.5,442.2 171.6,440.3 175.5,440.3 C179.4,440.3 182.1,442.2 186.3,444.4 C190.5,446.6 195.9,450.4 200.7,453.6 C205.5,456.8 210.6,460.1 215,463.8 C219.4,467.6 223.5,471.7 227.2,476.1 C230.9,480.5 234,485.3 237.4,490.4 C240.8,495.5 244.3,500.9 247.7,506.7 C251.1,512.5 254.5,519 257.9,525.1 C261.3,531.2 264.7,537 268.1,543.5 C271.5,550 275.4,556.4 278.3,564 C281.2,571.6 282.5,579.9 285.6,588.9 C288.7,597.9 293.8,609.3 296.7,617.8 C299.6,626.3 301.4,633 303.3,640 C305.2,647 307.2,656.7 308,660" fill="none" stroke="#000" stroke-width="4.4" stroke-dasharray="4.8 0.9 1.4 0.9"/>
<path d="M43.8,592 C45.2,588 49.5,575.1 52.3,568 C55.1,560.9 57,556.1 60.4,549.6 C63.8,543.1 68.3,536 72.7,529.2 C77.1,522.4 82.2,515.2 87,508.7 C91.8,502.2 97.5,494.5 101.3,490.4 C105,486.3 106.1,486.9 109.5,484.3 C112.9,481.8 117.3,477.5 121.7,475.1 C126.1,472.7 131.2,472.1 136,470 C140.8,467.9 146.7,465.5 150.4,462.8 C154.2,460.1 155.8,456.5 158.5,453.6 C161.2,450.7 163.9,447.3 166.7,445.4 C169.5,443.5 172.2,442 175.5,442.4 C178.8,442.8 182.8,444.3 186.3,447.5 C189.8,450.7 192.5,457 196.6,461.8 C200.7,466.6 205.8,471.7 210.9,476.1 C216,480.5 222.4,484 227.2,488.4 C232,492.8 235.8,498.3 239.5,502.7 C243.2,507.1 246.3,510.1 249.7,514.9 C253.1,519.7 256.1,525.2 259.9,531.3 C263.6,537.4 269.3,546.1 272.2,551.7 C275.1,557.3 275.1,558.5 277.3,565 C279.5,571.5 282.4,581.8 285.6,591 C288.8,600.2 293.8,611.5 296.7,620 C299.6,628.5 301.4,635 303.3,642 C305.2,649 307.2,658.7 308,662" fill="none" stroke="#000" stroke-width="4.4" stroke-dasharray="4.8 0.9 1.4 0.9"/>
<path d="M43.8,652 C44.5,650.5 45.4,647.3 48.2,642.7 C51,638.1 55.6,631.5 60.4,624.3 C65.2,617.1 71.7,607.2 76.8,599.7 C81.9,592.2 87.1,584.8 91.1,579.3 C95.1,573.8 98.3,570.2 101,567 C103.7,563.8 104,562.7 107.4,559.8 C110.9,556.9 116.9,553.1 121.7,549.7 C126.5,546.3 132.2,542.8 136,539.4 C139.8,536 141.8,533.3 144.2,529.2 C146.6,525.1 148.5,519.3 150.4,514.9 C152.3,510.5 153.8,506.4 155.5,502.7 C157.2,498.9 158.7,495.3 160.6,492.4 C162.5,489.5 164.2,487.1 166.7,485.3 C169.2,483.5 172.6,481.5 175.5,481.7 C178.4,481.9 181.5,483.8 184.3,486.3 C187.1,488.8 190.6,493.8 192.5,496.5 C194.4,499.2 193.8,499.3 195.5,502.7 C197.2,506.1 199.8,511.6 202.7,517 C205.6,522.5 209.2,529.9 212.9,535.4 C216.7,540.9 222.3,546.3 225.2,549.7 C228,553.1 227,552 230,555.6 C233,559.2 238.9,565.6 243.3,571.1 C247.8,576.6 252.6,583 256.7,588.9 C260.8,594.8 264.6,601.2 267.8,606.7 C271,612.2 273.4,616.8 276,622 C278.6,627.2 280.6,632.1 283.3,638 C286,643.9 289.2,650.1 292.2,657.6 C295.2,665.1 298.9,676.1 301.1,683.2 C303.3,690.3 304.6,696.2 305.6,700 C306.6,703.8 306.8,705 307,706" fill="none" stroke="#000" stroke-width="4.4" stroke-dasharray="4.8 0.9 1.4 0.9"/>
<path d="M43.8,646 C44.5,644.1 45.8,640.2 48.2,634.5 C50.6,628.8 54.6,619.5 58.4,612 C62.1,604.5 67,596.5 70.7,589.5 C74.5,582.5 78.2,576 80.9,570 C83.6,564 84.3,558.9 87,553.8 C89.7,548.7 93.1,544.5 97.2,539.4 C101.3,534.3 106.7,527.9 111.5,523.1 C116.3,518.3 121.4,514.2 125.8,510.8 C130.2,507.4 134.7,504.3 138.1,502.7 C141.5,501.1 143.6,501 146.3,501 C149,501 152.4,501.9 154.4,502.7 C156.4,503.5 156.4,504 158.5,505.7 C160.6,507.4 163.8,511.2 166.7,512.9 C169.6,514.6 172.7,516.1 176,515.8 C179.3,515.4 183.1,512.8 186.3,510.8 C189.6,508.8 192.4,505.2 195.5,503.7 C198.6,502.2 201.1,501.1 204.7,501.6 C208.3,502.1 212.9,503.8 217,506.7 C221.1,509.6 225.3,513.5 229.3,519 C233.3,524.5 237.3,533.5 241.1,540 C244.9,546.5 248.5,550.4 252.2,557.8 C255.9,565.2 259.6,576.2 263.3,584.4 C267,592.5 271.1,599.3 274.4,606.7 C277.7,614.1 280.3,620.8 283.3,628.9 C286.3,637 289.2,646.7 292.2,655.6 C295.2,664.5 298.9,674.8 301.1,682.2 C303.3,689.6 304.6,696 305.6,700 C306.6,704 306.8,705 307,706" fill="none" stroke="#000" stroke-width="4.4" stroke-dasharray="4.8 0.9 1.4 0.9"/>
<path d="M43.8,692 C44.9,689.9 46.8,685.2 50.2,679.4 C53.7,673.6 59.4,664.5 64.5,657 C69.6,649.5 75.5,640.6 80.9,634.5 C86.4,628.4 91.4,624.1 97.2,620.2 C103,616.3 110.1,614.4 115.6,611 C121,607.6 125.5,604.7 129.9,599.7 C134.3,594.8 138.8,586.8 142.2,581.3 C145.6,575.8 148,570.6 150.4,567 C152.8,563.4 154.1,561.9 156.5,559.9 C158.9,557.9 161.4,556.1 164.7,555.3 C167.9,554.4 172.1,554.7 176,554.8 C179.9,554.9 184.6,554.6 188.4,555.8 C192.2,557 195.9,559.8 198.6,561.9 C201.3,564 202.6,564.9 204.7,568.1 C206.8,571.3 208.2,576 210.9,581.3 C213.6,586.6 217.3,594.6 221.1,599.7 C224.8,604.8 229.7,607.9 233.4,612 C237.1,616.1 239.4,619.7 243.3,624.4 C247.2,629.1 252.2,634.1 256.7,640 C261.1,645.9 265.9,653.3 270,660 C274.1,666.7 278,673.8 281.1,680 C284.2,686.2 286.7,692.7 288.5,697 C290.3,701.3 291.4,704.5 292,706" fill="none" stroke="#000" stroke-width="4.4" stroke-dasharray="4.8 0.9 1.4 0.9"/>
<path d="M73,707 C73.5,706.2 73.5,704.9 75.8,702 C78.1,699.1 82.8,693.5 87,689.7 C91.2,685.9 96.2,682.8 101.3,679.4 C106.4,676 113.3,672.9 117.7,669.2 C122.1,665.5 124.9,662.1 127.9,657 C131,651.9 133.3,644.1 136,638.6 C138.7,633.1 141.1,627.4 144.2,624.3 C147.3,621.2 151.3,621.9 154.4,620.2 C157.5,618.5 160.2,616.7 162.6,614 C165,611.3 166.6,606.5 168.8,603.8 C171,601.1 173.7,597.4 175.9,597.7 C178.2,598.1 180.2,603.2 182.3,605.9 C184.4,608.6 185.3,611.6 188.4,614 C191.5,616.4 197.3,617.8 200.7,620.2 C204.1,622.6 206.1,624 208.8,628.4 C211.5,632.8 213.9,640.9 217,646.7 C220.1,652.5 223.1,657.7 227.2,663.1 C231.3,668.5 236.7,674.3 241.5,679.4 C246.3,684.5 252.2,690.4 255.8,693.8 C259.4,697.2 261.4,697.8 263.3,700 C265.2,702.2 266.4,705.8 267,707" fill="none" stroke="#000" stroke-width="4.4" stroke-dasharray="4.8 0.9 1.4 0.9"/>
<path d="M132,708 C133,706.6 135.4,703.3 138.1,699.9 C140.8,696.5 145.9,693 148.3,687.6 C150.7,682.2 150.9,674.7 152.4,667.2 C153.9,659.7 155.8,649.9 157.5,642.7 C159.2,635.6 161.1,628 162.6,624.3 C164.1,620.5 164.3,621.1 166.7,620.2 C169.1,619.4 174.3,619.4 176.9,619.2 C179.5,619 180.7,618.4 182.3,619.2 C183.9,620.1 184.6,620.4 186.3,624.3 C188,628.2 190.4,635.6 192.5,642.7 C194.6,649.9 196.9,659.7 198.6,667.2 C200.3,674.7 200.6,682.5 202.7,687.6 C204.8,692.7 208.3,694.4 210.9,697.8 C213.5,701.2 216.8,706.3 218,708" fill="none" stroke="#000" stroke-width="4.4" stroke-dasharray="4.8 0.9 1.4 0.9"/>
</g>
<rect x="121.8" y="11.7" width="113.2" height="220.9" fill="#fff"/>
<defs><clipPath id="clipI"><rect x="121.8" y="12.7" width="113.2" height="219.9"/></clipPath></defs>
<g clip-path="url(#clipI)">
<path d="M121.8,17 L122.7,17 L123.7,17 L124.6,17 L125.6,17 L126.5,17 L127.5,17 L128.4,17 L129.3,17 L130.3,17 L131.2,17 L132.2,17 L133.1,17 L134.1,17 L135,17 L135.9,17 L136.9,17 L137.8,17 L138.8,17 L139.7,17 L140.7,17 L141.6,21.5 L142.6,27.6 L143.5,33.6 L144.4,39.4 L145.4,45 L146.3,50.5 L147.3,55.8 L148.2,61 L149.2,66 L150.1,70.8 L151,75.5 L152,80 L152.9,84.4 L153.9,88.6 L154.8,92.6 L155.8,96.5 L156.7,100.3 L157.6,103.8 L158.6,107.3 L159.5,110.5 L160.5,113.6 L161.4,116.6 L162.4,119.4 L163.3,122 L164.2,124.4 L165.2,126.8 L166.1,128.9 L167.1,130.9 L168,132.7 L169,134.4 L169.9,135.9 L170.9,137.3 L171.8,138.5 L172.7,139.6 L173.7,140.4 L174.6,141.2 L175.6,141.7 L176.5,142.1 L177.5,142.4 L178.4,142.5 L179.3,142.4 L180.3,142.2 L181.2,141.8 L182.2,141.3 L183.1,140.6 L184.1,139.8 L185,138.7 L185.9,137.6 L186.9,136.2 L187.8,134.8 L188.8,133.1 L189.7,131.3 L190.7,129.3 L191.6,127.2 L192.6,125 L193.5,122.5 L194.4,119.9 L195.4,117.2 L196.3,114.3 L197.3,111.2 L198.2,108 L199.2,104.6 L200.1,101 L201,97.3 L202,93.5 L202.9,89.5 L203.9,85.3 L204.8,80.9 L205.8,76.5 L206.7,71.8 L207.6,67 L208.6,62 L209.5,56.9 L210.5,51.6 L211.4,46.2 L212.4,40.6 L213.3,34.8 L214.2,28.9 L215.2,22.8 L216.1,17 L217.1,17 L218,17 L219,17 L219.9,17 L220.8,17 L221.8,17 L222.7,17 L223.7,17 L224.6,17 L225.6,17 L226.5,17 L227.5,17 L228.4,17 L229.3,17 L230.3,17 L231.2,17 L232.2,17 L233.1,17 L234.1,17 L235,17" fill="none" stroke="#000" stroke-width="3" stroke-dasharray="3.2 2.6"/>
<path d="M121.8,227.8 L122.7,227.8 L123.7,227.8 L124.6,227.8 L125.6,227.8 L126.5,227.8 L127.5,227.8 L128.4,227.8 L129.3,227.8 L130.3,227.8 L131.2,227.8 L132.2,227.8 L133.1,227.8 L134.1,227.8 L135,227.8 L135.9,227.8 L136.9,227.8 L137.8,227.8 L138.8,227.8 L139.7,227.8 L140.7,227.8 L141.6,226.6 L142.6,225.2 L143.5,223.9 L144.4,222.5 L145.4,221.3 L146.3,220 L147.3,218.8 L148.2,217.7 L149.2,216.5 L150.1,215.4 L151,214.4 L152,213.3 L152.9,212.4 L153.9,211.4 L154.8,210.5 L155.8,209.6 L156.7,208.8 L157.6,208 L158.6,207.2 L159.5,206.4 L160.5,205.7 L161.4,205.1 L162.4,204.4 L163.3,203.8 L164.2,203.3 L165.2,202.8 L166.1,202.3 L167.1,201.8 L168,201.4 L169,201 L169.9,200.7 L170.9,200.4 L171.8,200.1 L172.7,199.9 L173.7,199.7 L174.6,199.5 L175.6,199.4 L176.5,199.3 L177.5,199.2 L178.4,199.2 L179.3,199.2 L180.3,199.3 L181.2,199.3 L182.2,199.5 L183.1,199.6 L184.1,199.8 L185,200.1 L185.9,200.3 L186.9,200.6 L187.8,201 L188.8,201.3 L189.7,201.7 L190.7,202.2 L191.6,202.7 L192.6,203.2 L193.5,203.7 L194.4,204.3 L195.4,204.9 L196.3,205.6 L197.3,206.3 L198.2,207 L199.2,207.8 L200.1,208.6 L201,209.4 L202,210.3 L202.9,211.2 L203.9,212.2 L204.8,213.1 L205.8,214.1 L206.7,215.2 L207.6,216.3 L208.6,217.4 L209.5,218.6 L210.5,219.8 L211.4,221 L212.4,222.3 L213.3,223.6 L214.2,224.9 L215.2,226.3 L216.1,227.7 L217.1,227.8 L218,227.8 L219,227.8 L219.9,227.8 L220.8,227.8 L221.8,227.8 L222.7,227.8 L223.7,227.8 L224.6,227.8 L225.6,227.8 L226.5,227.8 L227.5,227.8 L228.4,227.8 L229.3,227.8 L230.3,227.8 L231.2,227.8 L232.2,227.8 L233.1,227.8 L234.1,227.8 L235,227.8" fill="none" stroke="#1a1aff" stroke-width="3.4" stroke-dasharray="3.6 2.6"/>
<path d="M121.8,202.4 L122.3,202.4 L122.7,202.4 L123.2,202.4 L123.7,202.4 L124.2,202.4 L124.6,202.4 L125.1,202.4 L125.6,202.4 L126,202.4 L126.5,202.4 L127,202.4 L127.5,202.4 L127.9,202.4 L128.4,202.4 L128.9,202.4 L129.3,202.4 L129.8,202.4 L130.3,202.4 L130.8,202.4 L131.2,202.4 L131.7,202.4 L132.2,202.4 L132.6,202.4 L133.1,202.4 L133.6,202.4 L134.1,202.4 L134.5,202.4 L135,202.4 L135.5,202.4 L135.9,202.4 L136.4,202.4 L136.9,202.4 L137.4,202.4 L137.8,202.4 L138.3,202.4 L138.8,202.4 L139.3,202.4 L139.7,202.4 L140.2,202.4 L140.7,202.4 L141.1,202.4 L141.6,202.4 L142.1,202.4 L142.6,202.4 L143,202.4 L143.5,202.4 L144,202.4 L144.4,202.4 L144.9,202.4 L145.4,202.4 L145.9,202.4 L146.3,202.4 L146.8,202.4 L147.3,202.4 L147.7,202.4 L148.2,202.4 L148.7,202.4 L149.2,202.4 L149.6,202.4 L150.1,202.4 L150.6,202.4 L151,202.4 L151.5,202.3 L152,202.3 L152.5,202.3 L152.9,202.3 L153.4,202.2 L153.9,202.2 L154.3,202.1 L154.8,202 L155.3,201.9 L155.8,201.8 L156.2,201.6 L156.7,201.4 L157.2,201.2 L157.6,200.9 L158.1,200.5 L158.6,200 L159.1,199.5 L159.5,198.8 L160,198.1 L160.5,197.1 L160.9,196 L161.4,194.8 L161.9,193.3 L162.4,191.6 L162.8,189.7 L163.3,187.4 L163.8,184.9 L164.2,182.1 L164.7,179 L165.2,175.5 L165.7,171.7 L166.1,167.5 L166.6,162.9 L167.1,158 L167.6,152.8 L168,147.2 L168.5,141.4 L169,135.3 L169.4,129 L169.9,122.5 L170.4,116 L170.9,109.4 L171.3,102.8 L171.8,96.4 L172.3,90.2 L172.7,84.2 L173.2,78.6 L173.7,73.4 L174.2,68.8 L174.6,64.7 L175.1,61.3 L175.6,58.5 L176,56.5 L176.5,55.3 L177,54.9 L177.5,55.3 L177.9,56.4 L178.4,58.4 L178.9,61.1 L179.3,64.5 L179.8,68.5 L180.3,73.1 L180.8,78.3 L181.2,83.8 L181.7,89.8 L182.2,96 L182.6,102.4 L183.1,109 L183.6,115.6 L184.1,122.1 L184.5,128.6 L185,134.9 L185.5,141 L185.9,146.9 L186.4,152.5 L186.9,157.7 L187.4,162.6 L187.8,167.2 L188.3,171.4 L188.8,175.3 L189.2,178.8 L189.7,181.9 L190.2,184.8 L190.7,187.3 L191.1,189.5 L191.6,191.5 L192.1,193.2 L192.6,194.7 L193,196 L193.5,197.1 L194,198 L194.4,198.8 L194.9,199.5 L195.4,200 L195.9,200.5 L196.3,200.9 L196.8,201.2 L197.3,201.4 L197.7,201.6 L198.2,201.8 L198.7,201.9 L199.2,202 L199.6,202.1 L200.1,202.2 L200.6,202.2 L201,202.3 L201.5,202.3 L202,202.3 L202.5,202.3 L202.9,202.4 L203.4,202.4 L203.9,202.4 L204.3,202.4 L204.8,202.4 L205.3,202.4 L205.8,202.4 L206.2,202.4 L206.7,202.4 L207.2,202.4 L207.6,202.4 L208.1,202.4 L208.6,202.4 L209.1,202.4 L209.5,202.4 L210,202.4 L210.5,202.4 L210.9,202.4 L211.4,202.4 L211.9,202.4 L212.4,202.4 L212.8,202.4 L213.3,202.4 L213.8,202.4 L214.2,202.4 L214.7,202.4 L215.2,202.4 L215.7,202.4 L216.1,202.4 L216.6,202.4 L217.1,202.4 L217.5,202.4 L218,202.4 L218.5,202.4 L219,202.4 L219.4,202.4 L219.9,202.4 L220.4,202.4 L220.8,202.4 L221.3,202.4 L221.8,202.4 L222.3,202.4 L222.7,202.4 L223.2,202.4 L223.7,202.4 L224.2,202.4 L224.6,202.4 L225.1,202.4 L225.6,202.4 L226,202.4 L226.5,202.4 L227,202.4 L227.5,202.4 L227.9,202.4 L228.4,202.4 L228.9,202.4 L229.3,202.4 L229.8,202.4 L230.3,202.4 L230.8,202.4 L231.2,202.4 L231.7,202.4 L232.2,202.4 L232.6,202.4 L233.1,202.4 L233.6,202.4 L234.1,202.4 L234.5,202.4 L235,202.4" fill="none" stroke="#dd1111" stroke-width="2.6"/>
<path d="M121.8,202.4 L122.3,202.4 L122.7,202.4 L123.2,202.4 L123.7,202.4 L124.2,202.4 L124.6,202.4 L125.1,202.4 L125.6,202.4 L126,202.4 L126.5,202.4 L127,202.4 L127.5,202.4 L127.9,202.4 L128.4,202.4 L128.9,202.4 L129.3,202.4 L129.8,202.4 L130.3,202.4 L130.8,202.4 L131.2,202.4 L131.7,202.4 L132.2,202.4 L132.6,202.4 L133.1,202.4 L133.6,202.4 L134.1,202.4 L134.5,202.4 L135,202.4 L135.5,202.4 L135.9,202.4 L136.4,202.4 L136.9,202.4 L137.4,202.4 L137.8,202.4 L138.3,202.4 L138.8,202.4 L139.3,202.4 L139.7,202.4 L140.2,202.4 L140.7,202.4 L141.1,202.4 L141.6,202.4 L142.1,202.4 L142.6,202.4 L143,202.4 L143.5,202.4 L144,202.4 L144.4,202.4 L144.9,202.4 L145.4,202.4 L145.9,202.4 L146.3,202.4 L146.8,202.4 L147.3,202.4 L147.7,202.4 L148.2,202.4 L148.7,202.4 L149.2,202.3 L149.6,202.3 L150.1,202.3 L150.6,202.2 L151,202.2 L151.5,202.1 L152,202 L152.5,201.8 L152.9,201.6 L153.4,201.3 L153.9,200.9 L154.3,200.5 L154.8,199.9 L155.3,199.1 L155.8,198.2 L156.2,197.1 L156.7,195.7 L157.2,194 L157.6,192.1 L158.1,189.8 L158.6,187.1 L159.1,184 L159.5,180.5 L160,176.6 L160.5,172.2 L160.9,167.5 L161.4,162.3 L161.9,156.9 L162.4,151.1 L162.8,145.2 L163.3,139.1 L163.8,133.1 L164.2,127.2 L164.7,121.5 L165.2,116.2 L165.7,111.4 L166.1,107.2 L166.6,103.7 L167.1,101 L167.6,99.3 L168,98.4 L168.5,98.5 L169,99.5 L169.4,101.5 L169.9,104.2 L170.4,107.8 L170.9,112 L171.3,116.8 L171.8,121.9 L172.3,127.3 L172.7,132.9 L173.2,138.4 L173.7,143.7 L174.2,148.8 L174.6,153.4 L175.1,157.6 L175.6,161.1 L176,163.9 L176.5,166 L177,167.3 L177.5,167.8 L177.9,167.5 L178.4,166.3 L178.9,164.4 L179.3,161.7 L179.8,158.3 L180.3,154.2 L180.8,149.7 L181.2,144.7 L181.7,139.4 L182.2,133.9 L182.6,128.3 L183.1,122.9 L183.6,117.7 L184.1,112.8 L184.5,108.5 L185,104.8 L185.5,101.9 L185.9,99.8 L186.4,98.6 L186.9,98.3 L187.4,99 L187.8,100.6 L188.3,103.2 L188.8,106.5 L189.2,110.6 L189.7,115.3 L190.2,120.5 L190.7,126.1 L191.1,132 L191.6,138 L192.1,144.1 L192.6,150 L193,155.8 L193.5,161.3 L194,166.6 L194.4,171.4 L194.9,175.8 L195.4,179.8 L195.9,183.4 L196.3,186.6 L196.8,189.3 L197.3,191.7 L197.7,193.7 L198.2,195.4 L198.7,196.8 L199.2,198 L199.6,199 L200.1,199.7 L200.6,200.4 L201,200.9 L201.5,201.2 L202,201.5 L202.5,201.8 L202.9,201.9 L203.4,202.1 L203.9,202.2 L204.3,202.2 L204.8,202.3 L205.3,202.3 L205.8,202.3 L206.2,202.4 L206.7,202.4 L207.2,202.4 L207.6,202.4 L208.1,202.4 L208.6,202.4 L209.1,202.4 L209.5,202.4 L210,202.4 L210.5,202.4 L210.9,202.4 L211.4,202.4 L211.9,202.4 L212.4,202.4 L212.8,202.4 L213.3,202.4 L213.8,202.4 L214.2,202.4 L214.7,202.4 L215.2,202.4 L215.7,202.4 L216.1,202.4 L216.6,202.4 L217.1,202.4 L217.5,202.4 L218,202.4 L218.5,202.4 L219,202.4 L219.4,202.4 L219.9,202.4 L220.4,202.4 L220.8,202.4 L221.3,202.4 L221.8,202.4 L222.3,202.4 L222.7,202.4 L223.2,202.4 L223.7,202.4 L224.2,202.4 L224.6,202.4 L225.1,202.4 L225.6,202.4 L226,202.4 L226.5,202.4 L227,202.4 L227.5,202.4 L227.9,202.4 L228.4,202.4 L228.9,202.4 L229.3,202.4 L229.8,202.4 L230.3,202.4 L230.8,202.4 L231.2,202.4 L231.7,202.4 L232.2,202.4 L232.6,202.4 L233.1,202.4 L233.6,202.4 L234.1,202.4 L234.5,202.4 L235,202.4" fill="none" stroke="#10cc10" stroke-width="3"/>
</g>
<line x1="155" y1="32" x2="182" y2="32" stroke="#000" stroke-width="3.2" stroke-dasharray="3 1.8"/>
<line x1="155" y1="46.8" x2="182" y2="46.8" stroke="#1a1aff" stroke-width="3.2" stroke-dasharray="3 1.8"/>
<text x="185" y="36" font-family='"Liberation Sans", sans-serif' font-size="9" font-weight="normal" text-anchor="start" fill="#000" textLength="8.5" lengthAdjust="spacingAndGlyphs" >Ec</text>
<text x="185" y="50.6" font-family='"Liberation Sans", sans-serif' font-size="9" font-weight="normal" text-anchor="start" fill="#000" textLength="8.5" lengthAdjust="spacingAndGlyphs" >Ev</text>
<rect x="121.8" y="11.7" width="113.2" height="220.9" fill="none" stroke="#000" stroke-width="2.2"/>
<path d="M131,232.6 v-3.2 M140.5,232.6 v-5 M150,232.6 v-3.2 M159.5,232.6 v-3.2 M169,232.6 v-3.2 M178.5,232.6 v-5 M188,232.6 v-3.2 M197.5,232.6 v-3.2 M207,232.6 v-3.2 M216.5,232.6 v-5 M226,232.6 v-3.2 M121.8,202.7 h5 M121.8,173.4 h3 M121.8,144 h3 M121.8,114.7 h3 M121.8,85.3 h3 M121.8,56 h5 M121.8,26.7 h3 M235,229.5 h3 M235,215.6 h3 M235,201.6 h3 M235,187.7 h5 M235,173.8 h3 M235,159.8 h3 M235,145.9 h3 M235,131.9 h3 M235,118 h5 M235,104.1 h3 M235,90.1 h3 M235,76.2 h3 M235,62.2 h3 M235,48.3 h5 M235,34.4 h3 M235,20.4 h3" stroke="#000" stroke-width="2.6" fill="none"/>
<text x="119.2" y="210.4" font-family='"Liberation Sans", sans-serif' font-size="22" font-weight="normal" text-anchor="end" fill="#000" textLength="6.4" lengthAdjust="spacingAndGlyphs" >0</text>
<text x="121.4" y="63.8" font-family='"Liberation Sans", sans-serif' font-size="22" font-weight="normal" text-anchor="end" fill="#000" textLength="17.5" lengthAdjust="spacingAndGlyphs" >0.1</text>
<text x="233.6" y="56.4" font-family='"Liberation Sans", sans-serif' font-size="21.5" font-weight="normal" text-anchor="end" fill="#000" textLength="17.8" lengthAdjust="spacingAndGlyphs" >0.5</text>
<text x="233.6" y="125.4" font-family='"Liberation Sans", sans-serif' font-size="21.5" font-weight="normal" text-anchor="end" fill="#000" textLength="5.8" lengthAdjust="spacingAndGlyphs" >0</text>
<text x="233.6" y="197.6" font-family='"Liberation Sans", sans-serif' font-size="21.5" font-weight="normal" text-anchor="end" fill="#000" textLength="22.2" lengthAdjust="spacingAndGlyphs" >-0.5</text>
<text x="139.5" y="255.4" font-family='"Liberation Sans", sans-serif' font-size="21" font-weight="normal" text-anchor="middle" fill="#000" textLength="18.4" lengthAdjust="spacingAndGlyphs" >-20</text>
<text x="178.3" y="255.4" font-family='"Liberation Sans", sans-serif' font-size="21" font-weight="normal" text-anchor="middle" fill="#000" textLength="6.5" lengthAdjust="spacingAndGlyphs" >0</text>
<text x="215.5" y="255.4" font-family='"Liberation Sans", sans-serif' font-size="21" font-weight="normal" text-anchor="middle" fill="#000" textLength="13.9" lengthAdjust="spacingAndGlyphs" >20</text>
<text x="178.2" y="265.5" font-family='"Liberation Sans", sans-serif' font-size="20" font-weight="normal" text-anchor="middle" fill="#000" textLength="29.3" lengthAdjust="spacingAndGlyphs" >Z(nm)</text>
<text x="0" y="0" font-family='"Liberation Sans", sans-serif' font-size="12.2" font-weight="normal" text-anchor="middle" fill="#000" textLength="104.5" lengthAdjust="spacingAndGlyphs" transform="translate(111.7,133.3) rotate(-90)">Probability</text>
<text x="0" y="0" font-family='"Liberation Sans", sans-serif' font-size="15.5" font-weight="normal" text-anchor="middle" fill="#000" textLength="60" lengthAdjust="spacingAndGlyphs" transform="translate(248,115.6) rotate(-90)">E(eV)</text>
<path d="M43.8,11.7 H307.8 M43.8,705.5 H307.8 M43.8,11.7 V410.8 M43.8,434.2 V705.5 M307.8,11.7 V411.2 M307.8,434.6 V705.5" stroke="#000" stroke-width="2.6" fill="none" stroke-linecap="square"/>
<path d="M65.6,11.7 v10 M65.6,705.5 v-10 M87.6,11.7 v6.5 M87.6,705.5 v-6.5 M109.6,11.7 v6.5 M109.6,705.5 v-6.5 M131.7,11.7 v6.5 M131.7,705.5 v-6.5 M153.7,11.7 v6.5 M153.7,705.5 v-6.5 M175.7,11.7 v10 M175.7,705.5 v-10 M197.7,11.7 v6.5 M197.7,705.5 v-6.5 M219.7,11.7 v6.5 M219.7,705.5 v-6.5 M241.8,11.7 v6.5 M241.8,705.5 v-6.5 M263.8,11.7 v6.5 M263.8,705.5 v-6.5 M285.8,11.7 v10 M285.8,705.5 v-10 M43.8,401 h4 M307.8,401 h-4 M43.8,377.4 h4 M307.8,377.4 h-4 M43.8,353.8 h6 M307.8,353.8 h-6 M43.8,330.2 h4 M307.8,330.2 h-4 M43.8,306.6 h4 M307.8,306.6 h-4 M43.8,283 h4 M307.8,283 h-4 M43.8,259.4 h4 M307.8,259.4 h-4 M43.8,235.8 h6 M307.8,235.8 h-6 M43.8,212.2 h4 M307.8,212.2 h-4 M43.8,188.6 h4 M307.8,188.6 h-4 M43.8,165 h4 M307.8,165 h-4 M43.8,141.4 h4 M307.8,141.4 h-4 M43.8,117.8 h6 M307.8,117.8 h-6 M43.8,94.2 h4 M307.8,94.2 h-4 M43.8,70.6 h4 M307.8,70.6 h-4 M43.8,47 h4 M307.8,47 h-4 M43.8,693.9 h4 M307.8,693.9 h-4 M43.8,669.2 h4 M307.8,669.2 h-4 M43.8,644.5 h6 M307.8,644.5 h-6 M43.8,619.8 h4 M307.8,619.8 h-4 M43.8,595.1 h4 M307.8,595.1 h-4 M43.8,570.3 h4 M307.8,570.3 h-4 M43.8,545.6 h4 M307.8,545.6 h-4 M43.8,520.9 h6 M307.8,520.9 h-6 M43.8,496.2 h4 M307.8,496.2 h-4 M43.8,471.5 h4 M307.8,471.5 h-4 M43.8,446.7 h4 M307.8,446.7 h-4" stroke="#000" stroke-width="2.8" fill="none"/>
<path d="M39.5,409.6 L46.7,418.8 M39.5,425.6 L46.7,434.8 M303.5,409.6 L310.7,418.8 M303.5,425.6 L310.7,434.8" stroke="#000" stroke-width="3.2" fill="none"/>
<text x="41.2" y="130.4" font-family='"Liberation Sans", sans-serif' font-size="36" font-weight="normal" text-anchor="end" fill="#000" textLength="34.7" lengthAdjust="spacingAndGlyphs" stroke="#000" stroke-width="0.5">300</text>
<text x="41.2" y="248.4" font-family='"Liberation Sans", sans-serif' font-size="36" font-weight="normal" text-anchor="end" fill="#000" textLength="34.7" lengthAdjust="spacingAndGlyphs" stroke="#000" stroke-width="0.5">200</text>
<text x="41.2" y="366.4" font-family='"Liberation Sans", sans-serif' font-size="36" font-weight="normal" text-anchor="end" fill="#000" textLength="34.7" lengthAdjust="spacingAndGlyphs" stroke="#000" stroke-width="0.5">100</text>
<text x="41.2" y="533.5" font-family='"Liberation Sans", sans-serif' font-size="36" font-weight="normal" text-anchor="end" fill="#000" textLength="42.1" lengthAdjust="spacingAndGlyphs" stroke="#000" stroke-width="0.5">-420</text>
<text x="41.2" y="657.1" font-family='"Liberation Sans", sans-serif' font-size="36" font-weight="normal" text-anchor="end" fill="#000" textLength="42.1" lengthAdjust="spacingAndGlyphs" stroke="#000" stroke-width="0.5">-440</text>
<text x="82.6" y="731.5" font-family='"Liberation Sans", sans-serif' font-size="29.5" font-weight="normal" text-anchor="end" fill="#000" textLength="33.6" lengthAdjust="spacingAndGlyphs" stroke="#000" stroke-width="0.4">-0.5</text>
<text x="176.6" y="730.4" font-family='"Liberation Sans", sans-serif' font-size="29.5" font-weight="normal" text-anchor="middle" fill="#000" textLength="9.3" lengthAdjust="spacingAndGlyphs" stroke="#000" stroke-width="0.4">0</text>
<text x="297.6" y="731.5" font-family='"Liberation Sans", sans-serif' font-size="29.5" font-weight="normal" text-anchor="end" fill="#000" textLength="23.6" lengthAdjust="spacingAndGlyphs" stroke="#000" stroke-width="0.4">0.5</text>
<text x="146.3" y="750.2" font-family='"Liberation Sans", sans-serif' font-size="33" font-weight="normal" text-anchor="start" fill="#000" textLength="40.7" lengthAdjust="spacingAndGlyphs" stroke="#000" stroke-width="0.35">k(nm</text>
<text x="188.6" y="735.5" font-family='"Liberation Sans", sans-serif' font-size="14.5" font-weight="normal" text-anchor="start" fill="#000" textLength="9.2" lengthAdjust="spacingAndGlyphs" >-1</text>
<text x="198.8" y="750.2" font-family='"Liberation Sans", sans-serif' font-size="33" font-weight="normal" text-anchor="start" fill="#000" textLength="6.7" lengthAdjust="spacingAndGlyphs" >)</text>
<text x="61.2" y="445" font-family='"Liberation Sans", sans-serif' font-size="52" font-weight="normal" text-anchor="start" fill="#000" textLength="69" lengthAdjust="spacingAndGlyphs" >(a)</text>
<text x="0" y="0" font-family='"Liberation Sans", sans-serif' font-size="15.5" font-weight="normal" text-anchor="middle" fill="#000" textLength="94.5" lengthAdjust="spacingAndGlyphs" transform="translate(18.6,440.8) rotate(-90)">E(meV)</text>
<text x="0" y="0" font-family='"Liberation Sans", sans-serif' font-size="22.3" font-weight="bold" text-anchor="middle" fill="#000" textLength="80" lengthAdjust="spacingAndGlyphs" transform="translate(323.2,181.7) rotate(90)">E(meV)</text>
<text x="0" y="0" font-family='"Liberation Sans", sans-serif' font-size="22.3" font-weight="bold" text-anchor="middle" fill="#000" textLength="80.6" lengthAdjust="spacingAndGlyphs" transform="translate(321.1,558.4) rotate(90)">E(meV)</text>
<path d="M394.4,57.6 V347.3 M394.4,347.8 h4.3 M394.4,332.8 h4.3 M394.4,317.7 h4.3 M394.4,302.7 h4.3 M394.4,272.7 h4.3 M394.4,257.7 h4.3 M394.4,242.6 h4.3 M394.4,227.6 h4.3 M394.4,197.6 h4.3 M394.4,182.6 h4.3 M394.4,167.5 h4.3 M394.4,152.5 h4.3 M394.4,122.5 h4.3 M394.4,107.5 h4.3 M394.4,92.4 h4.3 M394.4,77.4 h4.3 M394.4,62.4 h7 M394.4,137.5 h7 M394.4,212.6 h7 M394.4,287.7 h7" stroke="#000" stroke-width="2.2" fill="none"/>
<text x="392.2" y="70.6" font-family='"Liberation Sans", sans-serif' font-size="22.5" font-weight="normal" text-anchor="end" fill="#000" textLength="40.5" lengthAdjust="spacingAndGlyphs" >300</text>
<text x="392.2" y="145.7" font-family='"Liberation Sans", sans-serif' font-size="22.5" font-weight="normal" text-anchor="end" fill="#000" textLength="40.5" lengthAdjust="spacingAndGlyphs" >250</text>
<text x="392.2" y="220.8" font-family='"Liberation Sans", sans-serif' font-size="22.5" font-weight="normal" text-anchor="end" fill="#000" textLength="40.5" lengthAdjust="spacingAndGlyphs" >200</text>
<text x="392.2" y="295.9" font-family='"Liberation Sans", sans-serif' font-size="22.5" font-weight="normal" text-anchor="end" fill="#000" textLength="40.5" lengthAdjust="spacingAndGlyphs" >150</text>
<path d="M392.1,434.4 V723.4 M392.1,701.8 h4.3 M392.1,680.4 h4.3 M392.1,659 h4.3 M392.1,637.6 h4.3 M392.1,594.8 h4.3 M392.1,573.4 h4.3 M392.1,552 h4.3 M392.1,530.6 h4.3 M392.1,487.8 h4.3 M392.1,466.4 h4.3 M392.1,445 h4.3 M392.1,509.2 h7 M392.1,616.2 h7" stroke="#000" stroke-width="2.2" fill="none"/>
<text x="389.9" y="517.4" font-family='"Liberation Sans", sans-serif' font-size="22.5" font-weight="normal" text-anchor="end" fill="#000" textLength="40.5" lengthAdjust="spacingAndGlyphs" >250</text>
<text x="389.9" y="624.4" font-family='"Liberation Sans", sans-serif' font-size="22.5" font-weight="normal" text-anchor="end" fill="#000" textLength="40.5" lengthAdjust="spacingAndGlyphs" >200</text>
<text x="389.9" y="731.4" font-family='"Liberation Sans", sans-serif' font-size="22.5" font-weight="normal" text-anchor="end" fill="#000" textLength="40.5" lengthAdjust="spacingAndGlyphs" >150</text>
<path d="M392.1,723.3 h7" stroke="#000" stroke-width="2.4"/>
<text x="345.6" y="38" font-family='"Liberation Sans", sans-serif' font-size="51" font-weight="normal" text-anchor="start" fill="#000" textLength="69" lengthAdjust="spacingAndGlyphs" >(b)</text>
<text x="380.6" y="417.2" font-family='"Liberation Sans", sans-serif' font-size="52" font-weight="normal" text-anchor="start" fill="#000" textLength="62.5" lengthAdjust="spacingAndGlyphs" >(c)</text>
<defs><linearGradient id="cb145" x1="0" y1="0" x2="0" y2="1"><stop offset="0" stop-color="#7a0000"/><stop offset="0.1" stop-color="#b40000"/><stop offset="0.1" stop-color="#c80000"/><stop offset="0.2" stop-color="#ff0000"/><stop offset="0.2" stop-color="#ff0a00"/><stop offset="0.3" stop-color="#ff5a00"/><stop offset="0.3" stop-color="#ff8a00"/><stop offset="0.4" stop-color="#ffe000"/><stop offset="0.4" stop-color="#f4ff10"/><stop offset="0.5" stop-color="#90ff60"/><stop offset="0.5" stop-color="#7cff88"/><stop offset="0.6" stop-color="#30f0c8"/><stop offset="0.6" stop-color="#00f4ff"/><stop offset="0.7" stop-color="#00a8ff"/><stop offset="0.7" stop-color="#0068ff"/><stop offset="0.8" stop-color="#0022ff"/><stop offset="0.8" stop-color="#0000f4"/><stop offset="0.9" stop-color="#0000d0"/><stop offset="0.9" stop-color="#0000b8"/><stop offset="1" stop-color="#000088"/></linearGradient></defs>
<rect x="605.2" y="145.7" width="25.5" height="211" fill="url(#cb145)"/>
<path d="M605.2,166.8 H630.7 M605.2,187.9 H630.7 M605.2,209 H630.7 M605.2,230.1 H630.7 M605.2,251.2 H630.7 M605.2,272.3 H630.7 M605.2,293.4 H630.7 M605.2,314.5 H630.7 M605.2,335.6 H630.7" stroke="#000" stroke-opacity="0.55" stroke-width="1" fill="none"/>
<text x="644.2" y="152.7" font-family='"Liberation Sans", sans-serif' font-size="17" font-weight="normal" text-anchor="start" fill="#000" textLength="9.5" lengthAdjust="spacingAndGlyphs" >1</text>
<text x="644.2" y="173.8" font-family='"Liberation Sans", sans-serif' font-size="17" font-weight="normal" text-anchor="start" fill="#000" textLength="24.8" lengthAdjust="spacingAndGlyphs" >0.8</text>
<text x="644.2" y="194.9" font-family='"Liberation Sans", sans-serif' font-size="17" font-weight="normal" text-anchor="start" fill="#000" textLength="24.8" lengthAdjust="spacingAndGlyphs" >0.6</text>
<text x="644.2" y="216" font-family='"Liberation Sans", sans-serif' font-size="17" font-weight="normal" text-anchor="start" fill="#000" textLength="24.8" lengthAdjust="spacingAndGlyphs" >0.4</text>
<text x="644.2" y="237.1" font-family='"Liberation Sans", sans-serif' font-size="17" font-weight="normal" text-anchor="start" fill="#000" textLength="24.8" lengthAdjust="spacingAndGlyphs" >0.2</text>
<text x="644.2" y="258.2" font-family='"Liberation Sans", sans-serif' font-size="17" font-weight="normal" text-anchor="start" fill="#000" textLength="9.5" lengthAdjust="spacingAndGlyphs" >0</text>
<text x="644.2" y="279.3" font-family='"Liberation Sans", sans-serif' font-size="17" font-weight="normal" text-anchor="start" fill="#000" textLength="24.8" lengthAdjust="spacingAndGlyphs" >0.2</text>
<text x="643.6" y="279.3" font-family='"Liberation Sans", sans-serif' font-size="17" font-weight="normal" text-anchor="end" fill="#000" >-</text>
<text x="644.2" y="300.4" font-family='"Liberation Sans", sans-serif' font-size="17" font-weight="normal" text-anchor="start" fill="#000" textLength="24.8" lengthAdjust="spacingAndGlyphs" >0.4</text>
<text x="643.6" y="300.4" font-family='"Liberation Sans", sans-serif' font-size="17" font-weight="normal" text-anchor="end" fill="#000" >-</text>
<text x="644.2" y="321.5" font-family='"Liberation Sans", sans-serif' font-size="17" font-weight="normal" text-anchor="start" fill="#000" textLength="24.8" lengthAdjust="spacingAndGlyphs" >0.6</text>
<text x="643.6" y="321.5" font-family='"Liberation Sans", sans-serif' font-size="17" font-weight="normal" text-anchor="end" fill="#000" >-</text>
<text x="644.2" y="342.6" font-family='"Liberation Sans", sans-serif' font-size="17" font-weight="normal" text-anchor="start" fill="#000" textLength="24.8" lengthAdjust="spacingAndGlyphs" >0.8</text>
<text x="643.6" y="342.6" font-family='"Liberation Sans", sans-serif' font-size="17" font-weight="normal" text-anchor="end" fill="#000" >-</text>
<text x="644.2" y="363.7" font-family='"Liberation Sans", sans-serif' font-size="17" font-weight="normal" text-anchor="start" fill="#000" textLength="9.5" lengthAdjust="spacingAndGlyphs" >1</text>
<text x="643.6" y="363.7" font-family='"Liberation Sans", sans-serif' font-size="17" font-weight="normal" text-anchor="end" fill="#000" >-</text>
<defs><linearGradient id="cb522" x1="0" y1="0" x2="0" y2="1"><stop offset="0" stop-color="#7a0000"/><stop offset="0.1" stop-color="#b40000"/><stop offset="0.1" stop-color="#c80000"/><stop offset="0.2" stop-color="#ff0000"/><stop offset="0.2" stop-color="#ff0a00"/><stop offset="0.3" stop-color="#ff5a00"/><stop offset="0.3" stop-color="#ff8a00"/><stop offset="0.4" stop-color="#ffe000"/><stop offset="0.4" stop-color="#f4ff10"/><stop offset="0.5" stop-color="#90ff60"/><stop offset="0.5" stop-color="#7cff88"/><stop offset="0.6" stop-color="#30f0c8"/><stop offset="0.6" stop-color="#00f4ff"/><stop offset="0.7" stop-color="#00a8ff"/><stop offset="0.7" stop-color="#0068ff"/><stop offset="0.8" stop-color="#0022ff"/><stop offset="0.8" stop-color="#0000f4"/><stop offset="0.9" stop-color="#0000d0"/><stop offset="0.9" stop-color="#0000b8"/><stop offset="1" stop-color="#000088"/></linearGradient></defs>
<rect x="602.5" y="522.7" width="25.9" height="211.8" fill="url(#cb522)"/>
<path d="M602.5,543.9 H628.4 M602.5,565.1 H628.4 M602.5,586.2 H628.4 M602.5,607.4 H628.4 M602.5,628.6 H628.4 M602.5,649.8 H628.4 M602.5,671 H628.4 M602.5,692.1 H628.4 M602.5,713.3 H628.4" stroke="#000" stroke-opacity="0.55" stroke-width="1" fill="none"/>
<text x="641.8" y="529.7" font-family='"Liberation Sans", sans-serif' font-size="17" font-weight="normal" text-anchor="start" fill="#000" textLength="9.5" lengthAdjust="spacingAndGlyphs" >1</text>
<text x="641.8" y="550.9" font-family='"Liberation Sans", sans-serif' font-size="17" font-weight="normal" text-anchor="start" fill="#000" textLength="24.8" lengthAdjust="spacingAndGlyphs" >0.8</text>
<text x="641.8" y="572.1" font-family='"Liberation Sans", sans-serif' font-size="17" font-weight="normal" text-anchor="start" fill="#000" textLength="24.8" lengthAdjust="spacingAndGlyphs" >0.6</text>
<text x="641.8" y="593.2" font-family='"Liberation Sans", sans-serif' font-size="17" font-weight="normal" text-anchor="start" fill="#000" textLength="24.8" lengthAdjust="spacingAndGlyphs" >0.4</text>
<text x="641.8" y="614.4" font-family='"Liberation Sans", sans-serif' font-size="17" font-weight="normal" text-anchor="start" fill="#000" textLength="24.8" lengthAdjust="spacingAndGlyphs" >0.2</text>
<text x="641.8" y="635.6" font-family='"Liberation Sans", sans-serif' font-size="17" font-weight="normal" text-anchor="start" fill="#000" textLength="9.5" lengthAdjust="spacingAndGlyphs" >0</text>
<text x="641.8" y="656.8" font-family='"Liberation Sans", sans-serif' font-size="17" font-weight="normal" text-anchor="start" fill="#000" textLength="24.8" lengthAdjust="spacingAndGlyphs" >0.2</text>
<text x="641.2" y="656.8" font-family='"Liberation Sans", sans-serif' font-size="17" font-weight="normal" text-anchor="end" fill="#000" >-</text>
<text x="641.8" y="678" font-family='"Liberation Sans", sans-serif' font-size="17" font-weight="normal" text-anchor="start" fill="#000" textLength="24.8" lengthAdjust="spacingAndGlyphs" >0.4</text>
<text x="641.2" y="678" font-family='"Liberation Sans", sans-serif' font-size="17" font-weight="normal" text-anchor="end" fill="#000" >-</text>
<text x="641.8" y="699.1" font-family='"Liberation Sans", sans-serif' font-size="17" font-weight="normal" text-anchor="start" fill="#000" textLength="24.8" lengthAdjust="spacingAndGlyphs" >0.6</text>
<text x="641.2" y="699.1" font-family='"Liberation Sans", sans-serif' font-size="17" font-weight="normal" text-anchor="end" fill="#000" >-</text>
<text x="641.8" y="720.3" font-family='"Liberation Sans", sans-serif' font-size="17" font-weight="normal" text-anchor="start" fill="#000" textLength="24.8" lengthAdjust="spacingAndGlyphs" >0.8</text>
<text x="641.2" y="720.3" font-family='"Liberation Sans", sans-serif' font-size="17" font-weight="normal" text-anchor="end" fill="#000" >-</text>
<text x="641.8" y="741.5" font-family='"Liberation Sans", sans-serif' font-size="17" font-weight="normal" text-anchor="start" fill="#000" textLength="9.5" lengthAdjust="spacingAndGlyphs" >1</text>
<text x="641.2" y="741.5" font-family='"Liberation Sans", sans-serif' font-size="17" font-weight="normal" text-anchor="end" fill="#000" >-</text>
<path d="M645.7,40.7 V86.3" stroke="#000" stroke-width="2.6"/>
<path d="M585,106.4 H669.8" stroke="#000" stroke-width="2.6"/>
<rect x="627.1" y="86.3" width="26.6" height="20.3" fill="#fff" stroke="#444" stroke-width="0.9"/>
<path d="M635.7,86.3 V106.6" stroke="#444" stroke-width="0.9"/>
<text x="645.7" y="31.4" font-family='"Liberation Sans", sans-serif' font-size="16.3" font-weight="normal" text-anchor="middle" fill="#000" >Z</text>
<text x="572.1" y="111.6" font-family='"Liberation Sans", sans-serif' font-size="16.3" font-weight="normal" text-anchor="middle" fill="#000" >X</text>
<text x="676" y="111.6" font-family='"Liberation Sans", sans-serif' font-size="16.3" font-weight="normal" text-anchor="middle" fill="#000" >Y</text>
<text x="608.8" y="131.6" font-family='"Liberation Sans", sans-serif' font-size="17.8" font-weight="normal" text-anchor="start" fill="#000" textLength="71.5" lengthAdjust="spacingAndGlyphs" >Subband</text>
<path d="M643.4,417.6 V462.8" stroke="#000" stroke-width="2.6"/>
<path d="M583.1,483.1 H668.9" stroke="#000" stroke-width="2.6"/>
<rect x="625.2" y="462.8" width="26" height="20.6" fill="#fff" stroke="#444" stroke-width="0.9"/>
<path d="M633.2,462.8 V483.4" stroke="#444" stroke-width="0.9"/>
<text x="643.4" y="407.9" font-family='"Liberation Sans", sans-serif' font-size="16.3" font-weight="normal" text-anchor="middle" fill="#000" >Z</text>
<text x="569.4" y="488.4" font-family='"Liberation Sans", sans-serif' font-size="16.3" font-weight="normal" text-anchor="middle" fill="#000" >X</text>
<text x="675" y="488.4" font-family='"Liberation Sans", sans-serif' font-size="16.3" font-weight="normal" text-anchor="middle" fill="#000" >Y</text>
<text x="607.2" y="508.5" font-family='"Liberation Sans", sans-serif' font-size="17.8" font-weight="normal" text-anchor="start" fill="#000" textLength="71.5" lengthAdjust="spacingAndGlyphs" >Subband</text>
</svg>
</body></html>
